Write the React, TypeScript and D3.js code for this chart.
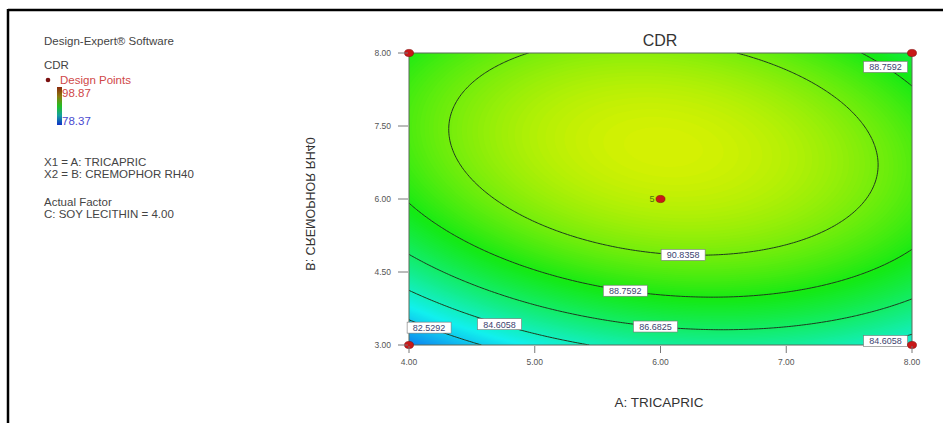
import React, { useMemo } from "react";
import * as d3 from "d3";

// factor ranges (actual units)
const factorA = [4, 8]; // A: TRICAPRIC
const factorB = [3, 8]; // B: CREMOPHOR RH40
const xTicks = [4, 5, 6, 7, 8];
const xTickLabels = ["4.00", "5.00", "6.00", "7.00", "8.00"];
const yTicks = [3, 4.25, 5.5, 6.75, 8];
const yTickLabels = ["3.00", "4.50", "6.00", "7.50", "8.00"];

// CDR quadratic model in coded units: intercept, A, B, AB, A^2, B^2
const coefs = [92.54, 0.5, 3.0, -1.2, -3.16, -4.2];
const cdrRange = [78.37, 98.87];
const levels = [82.5292, 84.6058, 86.6825, 88.7592, 90.8358];

// design points
const pointsA = [4, 4, 8, 8, 6];
const pointsB = [3, 8, 3, 8, 5.5];
const pointReps = [1, 1, 1, 1, 5];

// contour labels: level, where along A, lower/upper branch
const labelLevels = [90.8358, 88.7592, 88.7592, 86.6825, 84.6058, 84.6058, 82.5292];
const labelA = [6.18, 5.72, 7.79, 5.96, 4.72, 7.79, 4.16];
const labelBranch = ["low", "low", "high", "low", "low", "low", "low"];

const heatColors = ["#0a30f0", "#12f0ee", "#14ea14", "#f2f200", "#f01010"];
const font = "Arial, 'Liberation Sans', sans-serif";

const plot = { left: 409, right: 912, top: 53, bottom: 345 };

const coded = (a: number, b: number) => [(a - 6) / 2, (b - 5.5) / 2.5];

function cdr(a: number, b: number) {
  const [u, v] = coded(a, b);
  const [c0, c1, c2, c3, c4, c5] = coefs;
  return c0 + c1 * u + c2 * v + c3 * u * v + c4 * u * u + c5 * v * v;
}

// B value where the contour of `level` crosses a given A
function contourB(a: number, level: number, branch: string) {
  const [u] = coded(a, 5.5);
  const [c0, c1, c2, c3, c4, c5] = coefs;
  const qa = c5, qb = c2 + c3 * u, qc = c0 + c1 * u + c4 * u * u - level;
  const d = Math.sqrt(Math.max(0, qb * qb - 4 * qa * qc));
  const r1 = (-qb + d) / (2 * qa), r2 = (-qb - d) / (2 * qa);
  const v = branch === "low" ? Math.min(r1, r2) : Math.max(r1, r2);
  return 5.5 + v * 2.5;
}

export default function App() {
  const x = d3.scaleLinear().domain(factorA).range([plot.left, plot.right]);
  const y = d3.scaleLinear().domain(factorB).range([plot.bottom, plot.top]);
  const step = (cdrRange[1] - cdrRange[0]) / 4;
  const color = d3
    .scaleLinear<string>()
    .domain(d3.range(5).map((i) => cdrRange[0] + i * step))
    .range(heatColors)
    .clamp(true);

  const { fills, lines } = useMemo(() => {
    const nx = 201, ny = 121;
    const gridA = d3.scaleLinear().domain([0, nx - 1]).range(factorA);
    const gridB = d3.scaleLinear().domain([0, ny - 1]).range([factorB[1], factorB[0]]);
    const values: number[] = new Array(nx * ny);
    for (let j = 0; j < ny; j++)
      for (let i = 0; i < nx; i++) values[j * nx + i] = cdr(gridA(i), gridB(j));

    const proj = d3.geoTransform({
      point(px: number, py: number) {
        this.stream.point(x(gridA(px - 0.5)), y(gridB(py - 0.5)));
      },
    });
    const path = d3.geoPath(proj);
    const fillThresholds = d3.range(78.2, 99, 0.1);
    const fills = d3.contours().size([nx, ny]).thresholds(fillThresholds)(values)
      .map((c) => ({ d: path(c as any) || "", v: c.value }));
    const lines = d3.contours().size([nx, ny]).thresholds(levels)(values)
      .map((c) => ({ d: path(c as any) || "", v: c.value }));
    return { fills, lines };
  }, []);

  return (
    <svg width={943} height={423} style={{ position: "absolute", left: 0, top: 0, background: "#fff" }} fontFamily={font}>
      <defs>
        <clipPath id="plotClip">
          <rect x={plot.left} y={plot.top} width={plot.right - plot.left} height={plot.bottom - plot.top} />
        </clipPath>
        <linearGradient id="legendBar" x1="0" y1="0" x2="0" y2="1">
          <stop offset="0%" stopColor="#8a2a0c" />
          <stop offset="25%" stopColor="#8a7a10" />
          <stop offset="50%" stopColor="#22c022" />
          <stop offset="75%" stopColor="#16a0a0" />
          <stop offset="100%" stopColor="#1030c8" />
        </linearGradient>
      </defs>

      {/* outer frame */}
      <line x1={8} y1={10} x2={943} y2={10} stroke="#000" strokeWidth={2.5} />
      <line x1={8} y1={9} x2={8} y2={423} stroke="#000" strokeWidth={2.5} />

      {/* legend */}
      <g fill="#444" fontSize={11.5}>
        <text x={44} y={45}>Design-Expert® Software</text>
        <text x={44} y={69}>CDR</text>
        <circle cx={48} cy={80} r={2.3} fill="#7a1010" />
        <text x={60} y={84} fill="#d04848">Design Points</text>
        <rect x={57} y={87} width={5} height={38} fill="url(#legendBar)" />
        <text x={62} y={97} fill="#d04848">98.87</text>
        <text x={62} y={125} fill="#4a4ad0">78.37</text>
        <text x={44} y={166}>X1 = A: TRICAPRIC</text>
        <text x={44} y={178}>X2 = B: CREMOPHOR RH40</text>
        <text x={44} y={206}>Actual Factor</text>
        <text x={44} y={218}>C: SOY LECITHIN = 4.00</text>
      </g>

      {/* title */}
      <text x={660} y={46} textAnchor="middle" fontSize={16} fill="#333">CDR</text>

      {/* surface */}
      <g clipPath="url(#plotClip)">
        <rect x={plot.left} y={plot.top} width={plot.right - plot.left} height={plot.bottom - plot.top} fill={color(80)} />
        {fills.map((f, i) => (
          <path key={i} d={f.d} fill={color(f.v + 0.05)} stroke="none" />
        ))}
        {lines.map((l, i) => (
          <path key={i} d={l.d} fill="none" stroke="#1e3a1e" strokeWidth={1} />
        ))}
      </g>
      <rect x={plot.left} y={plot.top} width={plot.right - plot.left} height={plot.bottom - plot.top} fill="none" stroke="#5a6a5a" strokeWidth={1} />

      {/* contour labels */}
      {labelLevels.map((lv, i) => {
        const cx = x(labelA[i]);
        const cy = y(contourB(labelA[i], lv, labelBranch[i]));
        return (
          <g key={i}>
            <rect x={cx - 22} y={cy - 5.5} width={44} height={11} fill="#fff" stroke="#777" strokeWidth={0.6} />
            <text x={cx} y={cy + 3.3} textAnchor="middle" fontSize={9} fill="#3c4470">{lv.toFixed(4)}</text>
          </g>
        );
      })}

      {/* design points */}
      {pointsA.map((a, i) => (
        <g key={i}>
          <ellipse cx={x(a)} cy={y(pointsB[i])} rx={4.5} ry={3.6} fill="#c81818" stroke="#8a0a0a" strokeWidth={0.6} />
          {pointReps[i] > 1 && (
            <text x={x(a) - 6} y={y(pointsB[i]) + 3} textAnchor="end" fontSize={9} fill="#4a7a10">{pointReps[i]}</text>
          )}
        </g>
      ))}

      {/* x axis */}
      <g fontSize={8.5} fill="#555">
        {xTicks.map((t, i) => (
          <g key={i}>
            <line x1={x(t)} x2={x(t)} y1={plot.bottom + 1} y2={plot.bottom + 8} stroke="#777" />
            <text x={x(t)} y={plot.bottom + 20} textAnchor="middle">{xTickLabels[i]}</text>
          </g>
        ))}
      </g>
      <text x={659} y={407} textAnchor="middle" fontSize={13.5} fill="#333">A: TRICAPRIC</text>

      {/* y axis */}
      <g fontSize={8.5} fill="#555">
        {yTicks.map((t, i) => (
          <g key={i}>
            <line x1={plot.left - 11} x2={plot.left - 1} y1={y(t)} y2={y(t)} stroke="#777" />
            <text x={plot.left - 18} y={y(t) + 3} textAnchor="end">{yTickLabels[i]}</text>
          </g>
        ))}
      </g>
      <text transform={`translate(306,204) rotate(-90) scale(1,-1)`} textAnchor="middle" fontSize={12.5} fill="#333">B: CREMOPHOR RH40</text>
    </svg>
  );
}
